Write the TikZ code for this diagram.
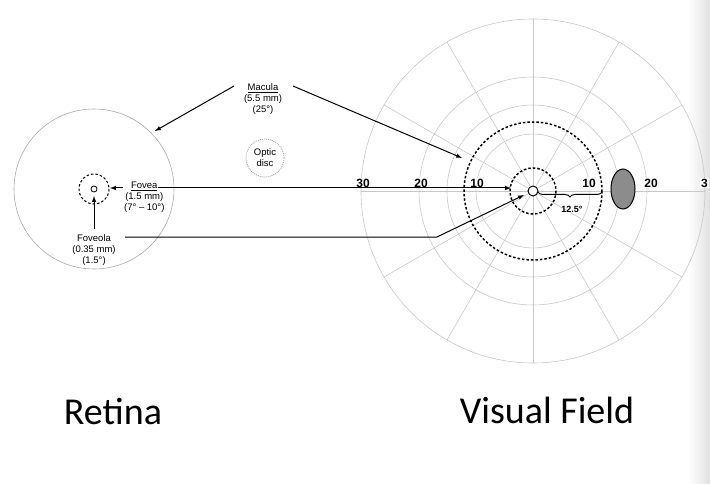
\documentclass[tikz,border=0pt]{standalone}
\usepackage{fontspec}
\setmainfont{Liberation Sans}
\newfontfamily\titlefont{Carlito}
\usetikzlibrary{decorations.pathreplacing}
\tikzset{every picture/.style={line width=0.75pt},
  grid/.style={draw={rgb,255:red,200;green,200;blue,200},line width=0.6pt},
  dashring/.style={draw=black,line width=1.5pt,dash pattern=on 2.5pt off 2pt},
  lbl/.style={font=\fontsize{9.5}{11}\selectfont,align=center,inner sep=0.75pt},
  num/.style={font=\fontsize{12}{12}\selectfont\bfseries,inner sep=0.75pt,fill=white},
  arr/.style={-latex,line width=1pt}}
\begin{document}
\begin{tikzpicture}[x=1pt,y=1pt,yscale=-1,xscale=1]
\useasboundingbox (0,0) rectangle (710,484);
%right edge shading
\shade[left color=white,right color={rgb,255:red,225;green,225;blue,225}] (688,0) rectangle (710,484);
%Visual field grid
\coordinate (vf) at (533,191);
\foreach \r in {57,114,172} \draw[grid] (vf) circle (\r);
\draw[grid] (vf) circle (86);
\foreach \a in {0,30,...,330} \draw[grid] (vf) -- ++(\a:172);
\draw[dashring] (vf) circle (69);
\draw[dashring] (vf) circle (23);
\draw[line width=1pt,fill=white] (vf) circle (5);
%blind spot
\draw[line width=1pt,fill={rgb,255:red,140;green,140;blue,140}] (623,189) ellipse (12 and 20);
%Scale numbers
\node[num] (n30) at (363,183) {30};
\node[num] (n20) at (421,183) {20};
\node[num] (n10) at (477,183) {10};
\node[num] (p10) at (589,183) {10};
\node[num] (p20) at (651,183) {20};
\node[num,anchor=west] (p30) at (700,183) {3};
%Brace
\draw[decorate,decoration={brace,amplitude=5pt,mirror},line width=1pt] (538,192) -- (602,192);
\node[lbl,font=\fontsize{9}{9}\selectfont\bfseries] (deg) at (572,209) {12.5\textdegree};
%Retina
\coordinate (rt) at (94,189);
\draw[grid,draw={rgb,255:red,170;green,170;blue,170}] (rt) circle (80);
\draw[dashring,line width=1pt] (rt) circle (15);
\draw[line width=0.8pt] (rt) circle (3);
\node[lbl,draw={rgb,255:red,150;green,150;blue,150},dash pattern=on 1pt off 1pt,circle,inner sep=0.5pt,minimum size=38pt] (disc) at (265,158) {Optic\\disc};
%Labels
\node[lbl] (mac) at (263,99) {\underline{Macula}\\(5.5 mm)\\(25\textdegree)};
\node[lbl,anchor=north west] (fov) at (123,181) {\underline{Fovea}\\(1.5 mm)\\(7\textdegree\ -- 10\textdegree)};
\node[lbl] (fvl) at (94,250) {Foveola\\(0.35 mm)\\(1.5\textdegree)};
\coordinate (fovE) at (158,188);
\coordinate (fvlE) at (125,237);
\coordinate (bend) at (437,237);
%Connectors
\draw[arr] (234,86) -- (155,131);
\draw[arr] (293,86) -- (462,158);
\draw[arr] (fov.west |- fovE) -- (110,188);
\draw[arr] (fovE) -- (511,188);
\draw[arr] (94,229) -- (94,196);
\draw[arr] (fvlE) -- (bend) -- (524,195);
%Titles
\node[font=\titlefont\fontsize{38}{38}\selectfont] (tret) at (113,412) {Retina};
\node[font=\titlefont\fontsize{38}{38}\selectfont] (tvf) at (547,410) {Visual Field};
\end{tikzpicture}
\end{document}
